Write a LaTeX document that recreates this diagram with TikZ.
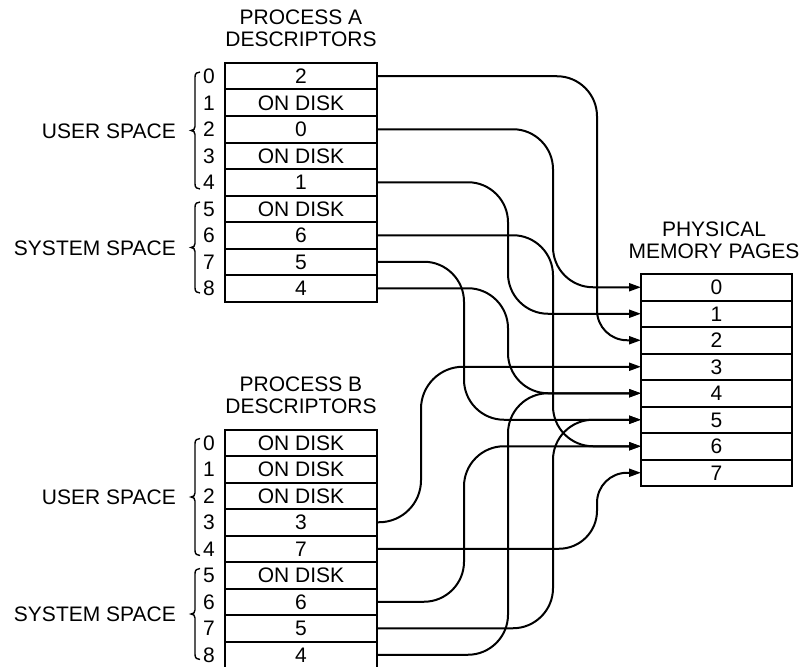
\documentclass[tikz,border=0pt]{standalone}
\usepackage{fontspec}
\setmainfont{Liberation Sans}
\usetikzlibrary{arrows.meta}
\newcommand\spbrace[2]{%
  \pgfmathsetmacro\bmid{(#1+#2)/2}%
  \draw[brc] (200,#1) .. controls (197,#1) and (195,{#1+1.5}) .. (195,{#1+5})
    -- (195,{\bmid-4}) .. controls (195,{\bmid-1.5}) and (193.5,\bmid) .. (191,\bmid)
    .. controls (193.5,\bmid) and (195,{\bmid+1.5}) .. (195,{\bmid+4})
    -- (195,{#2-5}) .. controls (195,{#2-1.5}) and (197,#2) .. (200,#2);}
\begin{document}
\begin{tikzpicture}[x=1pt,y=-1pt,
  font=\fontsize{21}{22}\selectfont,
  cell/.style={draw, line width=2pt, minimum width=152pt, minimum height=26.5pt,
    inner sep=0pt, outer sep=0pt, text height=15pt, text depth=0pt},
  idx/.style={inner sep=0pt, text height=15pt, text depth=0pt},
  lbl/.style={anchor=east, inner sep=0pt, text height=15pt, text depth=0pt},
  title/.style={align=center, inner sep=0pt},
  conn/.style={line width=2pt, -{Triangle[length=12pt,width=8pt]}},
  brc/.style={line width=1.4pt}]
\useasboundingbox (0,0) rectangle (805,666);

% ---------- Process A ----------
\node[title] (titleA) at (301,28.5) {PROCESS A\\DESCRIPTORS};
\foreach \i/\t in {0/2,1/ON DISK,2/0,3/ON DISK,4/1,5/ON DISK,6/6,7/5,8/4}{
  \node[cell] (A\i) at (301,{63+26.5*(\i+0.5)}) {\t};
  \node[idx] (iA\i) at (209,{63+26.5*(\i+0.5)}) {\i};
}
\spbrace{72}{189}
\spbrace{202}{293}
\node[lbl] (userA) at (176,130.5) {USER SPACE};
\node[lbl] (sysA) at (176,247.5) {SYSTEM SPACE};

% ---------- Process B ----------
\node[title] (titleB) at (301,395) {PROCESS B\\DESCRIPTORS};
\foreach \i/\t in {0/ON DISK,1/ON DISK,2/ON DISK,3/3,4/7,5/ON DISK,6/6,7/5,8/4}{
  \node[cell] (B\i) at (301,{429.5+26.5*(\i+0.5)}) {\t};
  \node[idx] (iB\i) at (209,{429.5+26.5*(\i+0.5)}) {\i};
}
\spbrace{438.5}{555.5}
\spbrace{568.5}{659.5}
\node[lbl] (userB) at (176,497) {USER SPACE};
\node[lbl] (sysB) at (176,614) {SYSTEM SPACE};

% ---------- Physical memory ----------
\node[title] (titleP) at (714,240) {PHYSICAL\\MEMORY PAGES};
\foreach \i in {0,...,7}{
  \node[cell, minimum width=151pt] (P\i) at (716.5,{274+26.5*(\i+0.5)}) {\i};
}

% ---------- Connectors from A ----------
\draw[conn] (A0.east) -- (557,76.25) .. controls (579,76.25) and (597,94.25) .. (597,116.25)
  -- (597,310.25) .. controls (597,326.85) and (610.4,340.25) .. (627,340.25) -- (P2.west);
\draw[conn] (A2.east) -- (513,129.25) .. controls (535,129.25) and (553,147.25) .. (553,169.25)
  -- (553,247.25) .. controls (553,269.25) and (571,287.25) .. (593,287.25) -- (P0.west);
\draw[conn] (A4.east) -- (468,182.25) .. controls (490,182.25) and (508,200.25) .. (508,222.25)
  -- (508,273.75) .. controls (508,295.75) and (526,313.75) .. (548,313.75) -- (P1.west);
\draw[conn] (A6.east) -- (513,235.25) .. controls (535,235.25) and (553,253.25) .. (553,275.25)
  -- (553,406.25) .. controls (553,428.25) and (571,446.25) .. (593,446.25) -- (P6.west);
\draw[conn] (A7.east) -- (424,261.75) .. controls (446,261.75) and (464,279.75) .. (464,301.75)
  -- (464,379.75) .. controls (464,401.75) and (482,419.75) .. (504,419.75) -- (P5.west);
\draw[conn] (A8.east) -- (468,288.25) .. controls (490,288.25) and (508,306.25) .. (508,328.25)
  -- (508,353.25) .. controls (508,375.25) and (526,393.25) .. (548,393.25) -- (P4.west);

% ---------- Connectors from B ----------
\draw[conn] (B3.east) -- (379,522.25) .. controls (402.2,522.25) and (421,503.45) .. (421,480.25)
  -- (421,408.75) .. controls (421,385.55) and (439.8,366.75) .. (463,366.75) -- (P3.west);
\draw[conn] (B4.east) -- (559,548.75) .. controls (580,548.75) and (597,531.75) .. (597,510.75)
  -- (597,502.75) .. controls (597,486.15) and (610.4,472.75) .. (627,472.75) -- (P7.west);
\draw[conn] (B6.east) -- (424,601.75) .. controls (446,601.75) and (464,583.75) .. (464,561.75)
  -- (464,486.25) .. controls (464,464.25) and (482,446.25) .. (504,446.25) -- (P6.west);
\draw[conn] (B7.east) -- (513,628.25) .. controls (535,628.25) and (553,610.25) .. (553,588.25)
  -- (553,459.75) .. controls (553,437.75) and (571,419.75) .. (593,419.75) -- (P5.west);
\draw[conn] (B8.east) -- (468,654.75) .. controls (490,654.75) and (508,636.75) .. (508,614.75)
  -- (508,433.25) .. controls (508,411.25) and (526,393.25) .. (548,393.25) -- (P4.west);
\end{tikzpicture}
\end{document}
